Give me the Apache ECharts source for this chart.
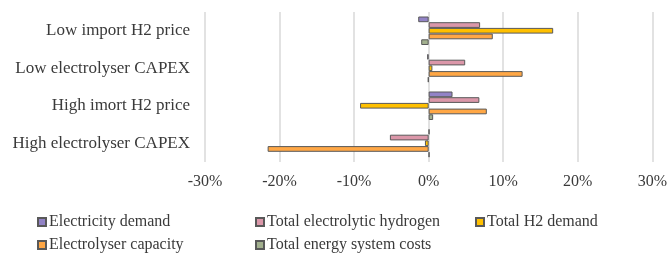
<!DOCTYPE html>
<html>
<head>
<meta charset="utf-8">
<script src="https://cdn.jsdelivr.net/npm/echarts@6/dist/echarts.min.js"></script>
<style>
  html, body { margin: 0; padding: 0; background: #fff; }
  #chart { width: 670px; height: 254px; }
</style>
</head>
<body>
<div id="chart"></div>
<script>
// scenarios, top to bottom
const scenarios = ["Low import H2 price", "Low electrolyser CAPEX", "High imort H2 price", "High electrolyser CAPEX"];
const seriesNames = ["Electricity demand", "Total electrolytic hydrogen", "Total H2 demand", "Electrolyser capacity", "Total energy system costs"];
// relative change, %
const electricityDemand = [-1.4, -0.2, 3.2, 0.1];
const electrolyticHydrogen = [6.9, 4.9, 6.8, -5.2];
const totalH2Demand = [16.7, 0.5, -9.2, -0.5];
const electrolyserCapacity = [8.6, 12.6, 7.8, -21.6];
const systemCosts = [-1.0, -0.1, 0.6, 0.1];
const xTicks = [-30, 30, 10]; // min, max, step

const colors = ["#9283c6", "#db97a9", "#ffc000", "#ffa745", "#a2b08e"];
const values = [electricityDemand, electrolyticHydrogen, totalH2Demand, electrolyserCapacity, systemCosts];
const font = "'Liberation Serif', 'Times New Roman', serif";
const textColor = "#3a3a3a";

const chart = echarts.init(document.getElementById("chart"));

// one legend per column so the entries line up like the original
function legendAt(left, names) {
  return {
    orient: "vertical",
    left: left,
    top: 209,
    height: 60,
    itemWidth: 8,
    itemHeight: 8,
    itemGap: 7,
    icon: "rect",
    data: names,
    selectedMode: false,
    textStyle: { fontFamily: font, fontSize: 16, color: textColor, padding: [0, 0, 0, -2] }
  };
}

chart.setOption({
  animation: false,
  color: colors,
  legend: [
    legendAt(32, [seriesNames[0], seriesNames[3]]),
    legendAt(250, [seriesNames[1], seriesNames[4]]),
    legendAt(470, [seriesNames[2]])
  ],
  grid: { left: 205, right: 15, top: 12, bottom: 92 },
  xAxis: {
    type: "value",
    min: xTicks[0],
    max: xTicks[1],
    interval: xTicks[2],
    axisLine: { show: false },
    axisTick: { show: false },
    axisLabel: {
      formatter: "{value}%",
      margin: 12,
      fontFamily: font,
      fontSize: 16,
      color: textColor
    },
    splitLine: { lineStyle: { color: "#d9d9d9", width: 1.5 } }
  },
  yAxis: {
    type: "category",
    inverse: true,
    data: scenarios,
    axisLine: { show: false },
    axisTick: { show: false },
    axisLabel: {
      margin: 15,
      fontFamily: font,
      fontSize: 17,
      color: textColor
    }
  },
  series: seriesNames.map((name, i) => ({
    name: name,
    type: "bar",
    data: values[i],
    barGap: "0%",
    barCategoryGap: "24%",
    itemStyle: { color: colors[i], borderColor: "#595959", borderWidth: 1 }
  }))
});
</script>
</body>
</html>
